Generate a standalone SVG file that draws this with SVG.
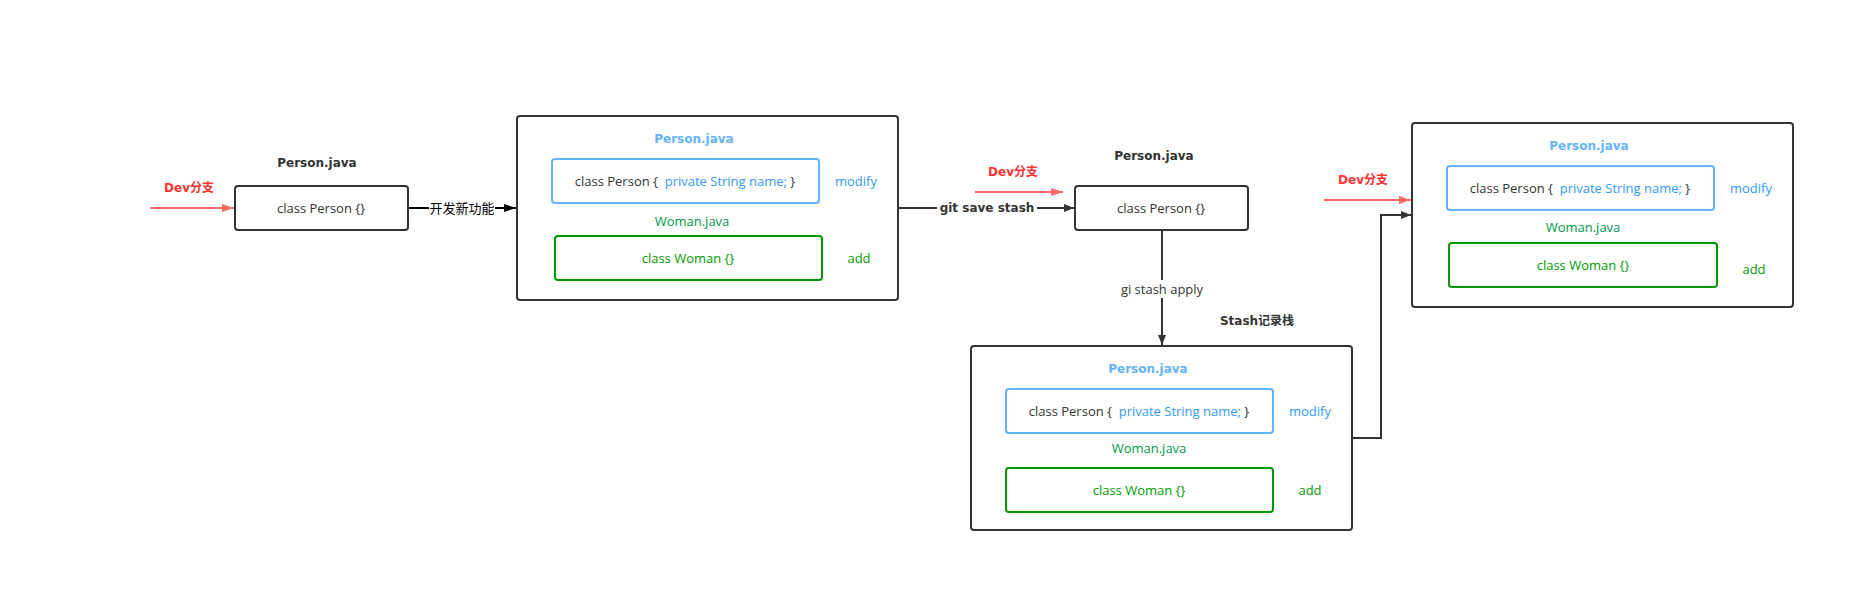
<svg xmlns="http://www.w3.org/2000/svg" width="1854" height="592" viewBox="0 0 1854 592">
<defs>
<style>
.t{font-family:"Open Sans","Noto Sans CJK SC",sans-serif;font-size:13px;fill:#333;text-anchor:middle;dominant-baseline:central;white-space:pre}
.b{font-family:"DejaVu Sans","Noto Sans CJK SC",sans-serif;font-size:12px;font-weight:bold;fill:#333;text-anchor:middle;dominant-baseline:central}
.red{fill:#FF3333}
.bl{fill:#66B2FF}
.bt{fill:#3399FF}
.gr{fill:#009900}
.gt{fill:#00994D}
.box{fill:#fff;stroke:#333;stroke-width:2}
.bbox{fill:#fff;stroke:#66B2FF;stroke-width:2}
.gbox{fill:#fff;stroke:#009900;stroke-width:2}
.ln{fill:none;stroke:#333;stroke-width:2}
.rl{fill:none;stroke:#FF6666;stroke-width:2}
</style>
<marker id="ah" markerWidth="10" markerHeight="8" refX="10" refY="4" orient="auto" markerUnits="userSpaceOnUse">
<path d="M0,0 L10,4 L0,8 Z" fill="#333"/>
</marker>
<marker id="ahk" markerWidth="12" markerHeight="8" refX="12" refY="4" orient="auto" markerUnits="userSpaceOnUse">
<path d="M0,0 L12,4 L0,8 Z" fill="#000"/>
</marker>
<marker id="ahr" markerWidth="12" markerHeight="8" refX="12" refY="4" orient="auto" markerUnits="userSpaceOnUse">
<path d="M0,0 L12,4 L0,8 Z" fill="#FF6666"/>
</marker>
</defs>
<rect width="1854" height="592" fill="#fff"/>

<g id="connectors">
<line class="rl" x1="150" y1="208" x2="234" y2="208" marker-end="url(#ahr)"/>
<line x1="408" y1="208" x2="516" y2="208" stroke="#000" stroke-width="2" marker-end="url(#ahk)"/>
<rect x="429" y="199" width="66" height="18" fill="#fff"/>
<text class="t" x="462" y="208" style="fill:#000">开发新功能</text>
<line class="ln" x1="898" y1="208" x2="1074" y2="208" marker-end="url(#ah)"/>
<rect x="937" y="200" width="100" height="16" fill="#fff"/>
<text class="b" x="987" y="208">git save stash</text>
<line class="rl" x1="975" y1="192" x2="1063" y2="192" marker-end="url(#ahr)"/>
<line class="ln" x1="1162" y1="230" x2="1162" y2="345" marker-end="url(#ah)"/>
<rect x="1116" y="280" width="92" height="18" fill="#fff"/>
<text class="t" x="1162" y="289">gi stash apply</text>
<line class="rl" x1="1324" y1="200" x2="1411" y2="200" marker-end="url(#ahr)"/>
<polyline class="ln" points="1352,438 1381,438 1381,215 1411,215" marker-end="url(#ah)"/>
</g>

<g id="dev1">
<text class="b red" x="189" y="188">Dev分支</text>
</g>

<g id="person1">
<text class="b" x="317" y="163">Person.java</text>
<rect class="box" x="235" y="186" width="173" height="44" rx="3"/>
<text class="t" x="321" y="208">class Person {}</text>
</g>

<g id="change1">
<rect class="box" x="517" y="116" width="381" height="184" rx="3"/>
<text class="b bl" x="694" y="139">Person.java</text>
<rect class="bbox" x="552" y="159" width="267" height="44" rx="3"/>
<text class="t" x="685" y="181"><tspan>class Person {  </tspan><tspan class="bt">private String name;</tspan><tspan> }</tspan></text>
<text class="t bt" x="856" y="181">modify</text>
<text class="t gt" x="692" y="221">Woman.java</text>
<rect class="gbox" x="555" y="236" width="267" height="44" rx="3"/>
<text class="t gr" x="688" y="258">class Woman {}</text>
<text class="t gr" x="859" y="258">add</text>
</g>

<g id="dev2">
<text class="b red" x="1013" y="172">Dev分支</text>
</g>

<g id="person2">
<text class="b" x="1154" y="156">Person.java</text>
<rect class="box" x="1075" y="186" width="173" height="44" rx="3"/>
<text class="t" x="1161" y="208">class Person {}</text>
</g>

<g id="stash">
<text class="b" x="1257" y="321">Stash记录栈</text>
<rect class="box" x="971" y="346" width="381" height="184" rx="3"/>
<text class="b bl" x="1148" y="369">Person.java</text>
<rect class="bbox" x="1006" y="389" width="267" height="44" rx="3"/>
<text class="t" x="1139" y="411"><tspan>class Person {  </tspan><tspan class="bt">private String name;</tspan><tspan> }</tspan></text>
<text class="t bt" x="1310" y="411">modify</text>
<text class="t gt" x="1149" y="448">Woman.java</text>
<rect class="gbox" x="1006" y="468" width="267" height="44" rx="3"/>
<text class="t gr" x="1139" y="490">class Woman {}</text>
<text class="t gr" x="1310" y="490">add</text>
</g>

<g id="dev3">
<text class="b red" x="1363" y="180">Dev分支</text>
</g>

<g id="result">
<rect class="box" x="1412" y="123" width="381" height="184" rx="3"/>
<text class="b bl" x="1589" y="146">Person.java</text>
<rect class="bbox" x="1447" y="166" width="267" height="44" rx="3"/>
<text class="t" x="1580" y="188"><tspan>class Person {  </tspan><tspan class="bt">private String name;</tspan><tspan> }</tspan></text>
<text class="t bt" x="1751" y="188">modify</text>
<text class="t gt" x="1583" y="227">Woman.java</text>
<rect class="gbox" x="1449" y="243" width="268" height="44" rx="3"/>
<text class="t gr" x="1583" y="265">class Woman {}</text>
<text class="t gr" x="1754" y="269">add</text>
</g>
</svg>
